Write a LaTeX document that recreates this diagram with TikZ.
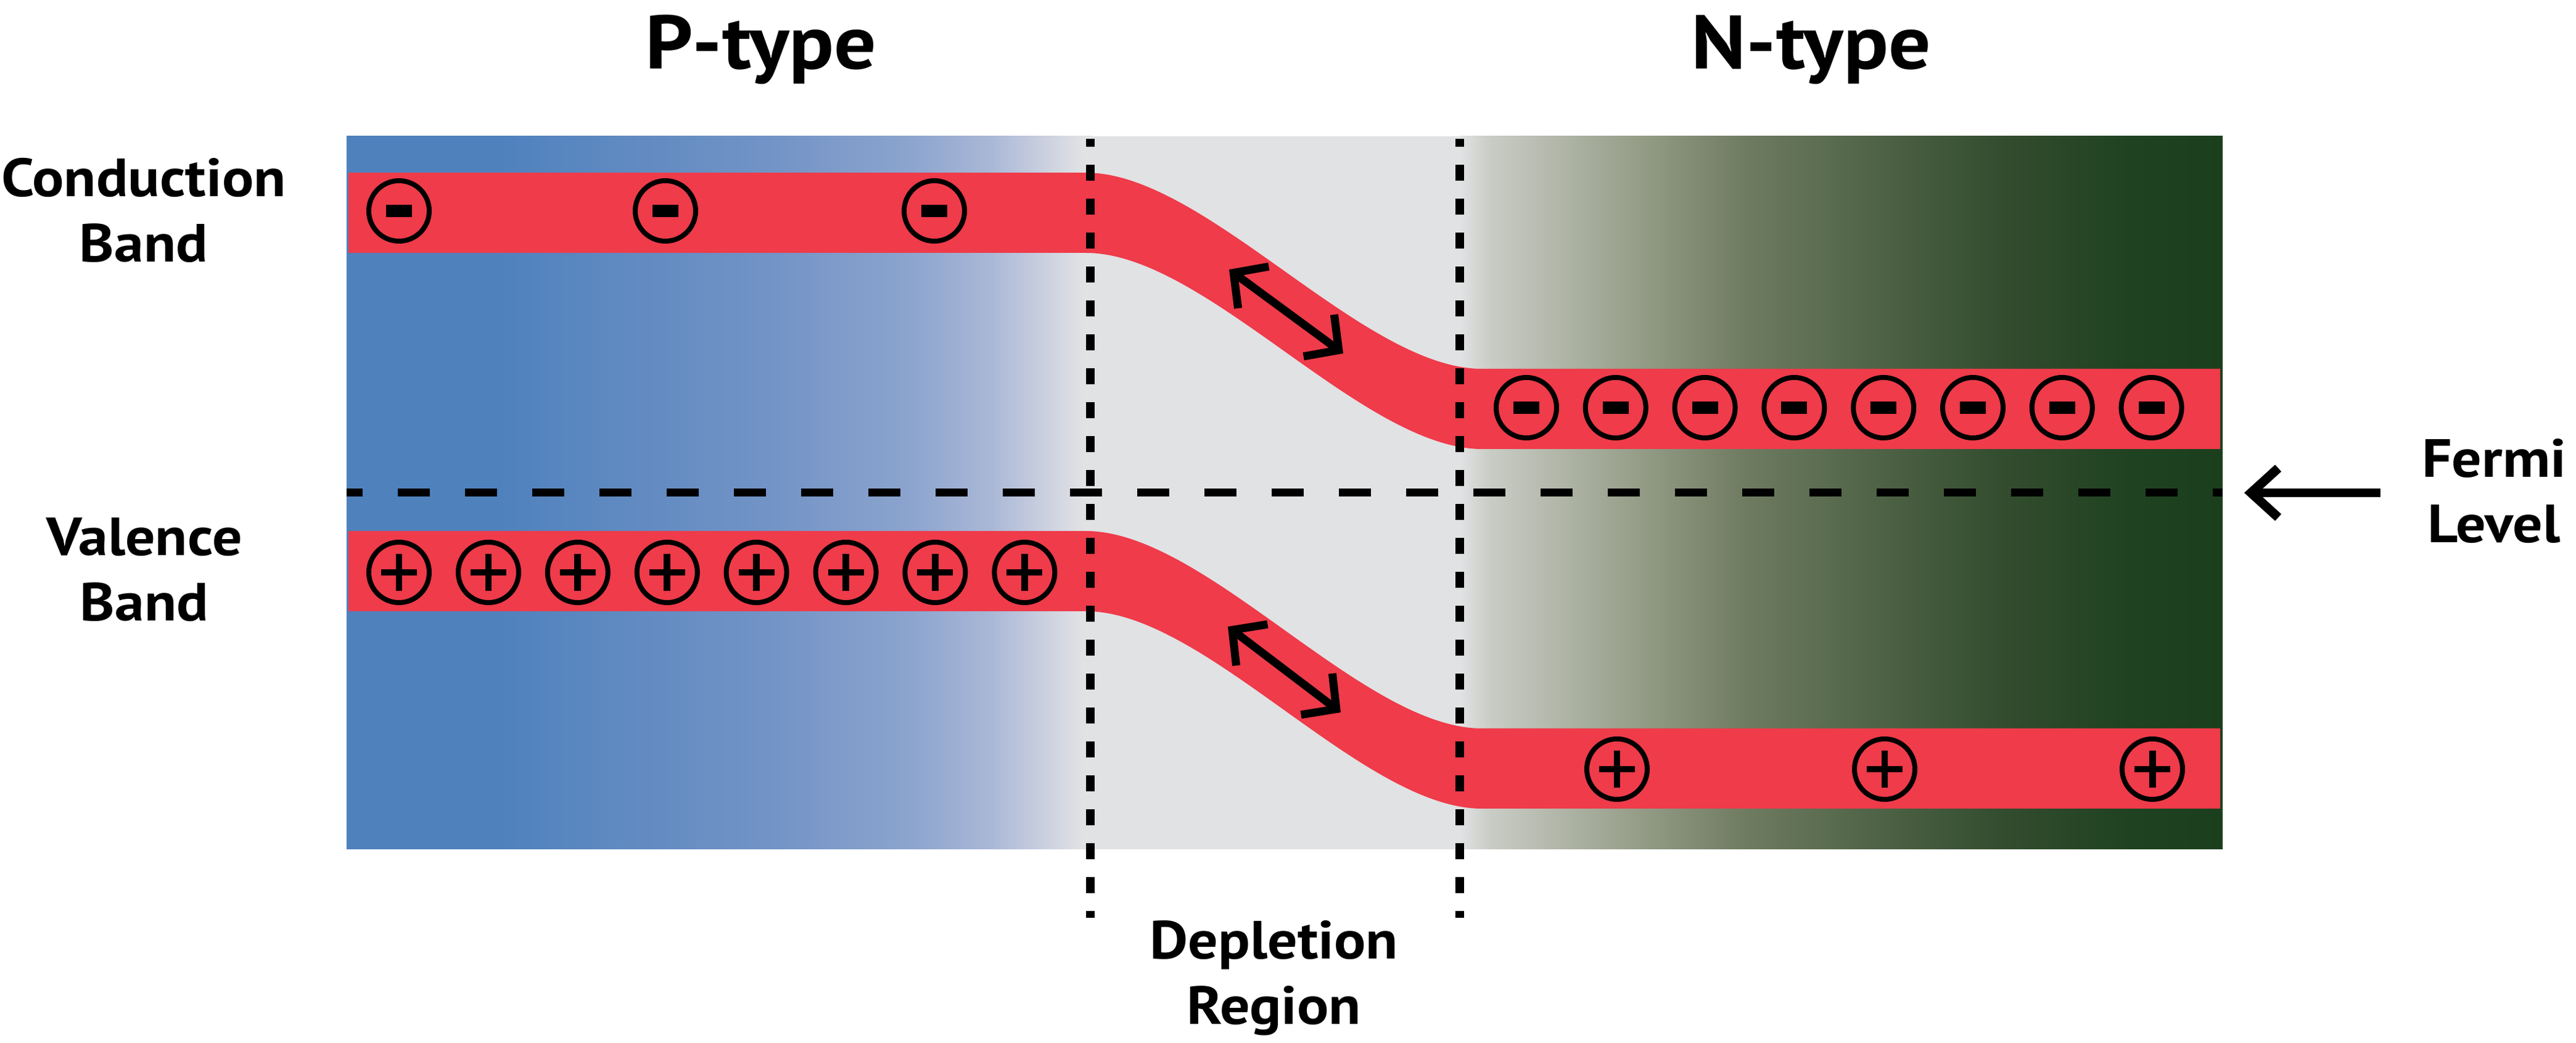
\documentclass[tikz,border=0pt]{standalone}
\usepackage{fontspec}
\setmainfont{PT Sans}[FakeStretch=1.1]
\usepackage{tikz}
\usetikzlibrary{arrows.meta}

\definecolor{bandred}{RGB}{239,59,74}
\definecolor{pblue}{RGB}{79,129,189}
\definecolor{pblueA}{RGB}{115,148,198}
\definecolor{pblueB}{RGB}{140,164,206}
\definecolor{pblueC}{RGB}{170,184,215}
\definecolor{pblueD}{RGB}{211,215,225}
\definecolor{dgrey}{RGB}{225,226,228}
\definecolor{ngreenA}{RGB}{201,204,197}
\definecolor{ngreenB}{RGB}{156,163,143}
\definecolor{ngreenC}{RGB}{110,123,96}
\definecolor{ngreenD}{RGB}{79,99,70}
\definecolor{ngreenE}{RGB}{51,76,46}
\definecolor{ngreenF}{RGB}{31,66,32}
\definecolor{ngreen}{RGB}{27,63,29}

\pgfdeclarehorizontalshading{pside}{100bp}{color(0bp)=(pblue); color(25bp)=(pblue); color(35bp)=(pblue); color(53.9bp)=(pblueA); color(62.8bp)=(pblueB); color(68.3bp)=(pblueC); color(72.8bp)=(pblueD); color(74.4bp)=(dgrey); color(100bp)=(dgrey)}
\pgfdeclarehorizontalshading{nside}{100bp}{color(0bp)=(dgrey); color(25bp)=(dgrey); color(27bp)=(ngreenA); color(35.4bp)=(ngreenB); color(43.8bp)=(ngreenC); color(52.3bp)=(ngreenD); color(60.7bp)=(ngreenE); color(69.1bp)=(ngreenF); color(75bp)=(ngreen); color(100bp)=(ngreen)}

\begin{document}
\begin{tikzpicture}[
	lbl/.style={align=center,anchor=base,font=\fontsize{12.4}{15.2}\selectfont\bfseries},
	ttl/.style={anchor=base,font=\fontsize{17.5}{21}\selectfont\bfseries},
	electron/.style={circle,draw,line width=1.14pt,minimum size=0.49cm,inner sep=0pt,
		path picture={\fill (path picture bounding box.center) ++(-0.105,-0.05) rectangle ++(0.21,0.1);}},
	hole/.style={circle,draw,line width=1.14pt,minimum size=0.49cm,inner sep=0pt,
		path picture={\draw[line width=1.56pt] (path picture bounding box.center) +(-0.145,0) -- +(0.145,0) +(0,-0.152) -- +(0,0.152);}},
	edge line/.style={line width=2pt,dash pattern=on 0.13cm off 0.145cm,dash phase=0.065cm},
	fermi line/.style={line width=1.85pt,dash pattern=on 0.26cm off 0.285cm,dash phase=0.13cm},
	biarrow/.style={line width=1.85pt,arrows={Straight Barb[length=0.2cm,width=0.42cm]-Straight Barb[length=0.2cm,width=0.42cm]}},
	fermiarrow/.style={line width=2.13pt,arrows={-Straight Barb[length=0.22cm,width=0.4cm]}}
	]
	\useasboundingbox (0,0) rectangle (20.885,8.455);
	
	\shade[shading=pside] (2.81,1.57) rectangle (8.85,7.35);	%P side
	\fill[dgrey] (8.84,1.57) rectangle (11.845,7.35);	%depletion
	\shade[shading=nside] (11.835,1.57) rectangle (18.02,7.35);	%N side
	
	\node[ttl] (ptype) at (6.17,7.895) {P-type};
	\node[ttl] (ntype) at (14.685,7.895) {N-type};
	\node[lbl] (cond) at (1.165,6.33) {Conduction\\Band};
	\node[lbl] (val) at (1.17,3.42) {Valence\\Band};
	\node[lbl] (depl) at (10.33,0.15) {Depletion\\Region};
	\node[lbl] (fermi) at (20.22,4.055) {Fermi\\Level};
	
	\fill[bandred] (2.825,7.055) -- (8.805,7.055) .. controls (9.775,7.055) and (11.045,5.465) .. (12.015,5.465) -- (18.0,5.465) -- (18.0,4.815) -- (12.015,4.815) .. controls (11.045,4.815) and (9.775,6.405) .. (8.805,6.405) -- (2.825,6.405) -- cycle;	%conduction
	\fill[bandred] (2.825,4.15) -- (8.805,4.15) .. controls (9.775,4.15) and (11.045,2.55) .. (12.015,2.55) -- (18.0,2.55) -- (18.0,1.9) -- (12.015,1.9) .. controls (11.045,1.9) and (9.775,3.5) .. (8.805,3.5) -- (2.825,3.5) -- cycle;	%valence
	
	\coordinate (dl1) at (8.84,7.33);	\coordinate (dl2) at (8.84,1.015);
	\coordinate (dr1) at (11.835,7.33);	\coordinate (dr2) at (11.835,1.015);
	\draw[edge line] (dl1) -- (dl2);
	\draw[edge line] (dr1) -- (dr2);
	
	\coordinate (fl1) at (2.81,4.46);	\coordinate (fl2) at (18.02,4.46);
	\draw[fermi line] (fl1) -- (fl2);
	\coordinate (ftail) at (19.3,4.46);	\coordinate (ftip) at (18.195,4.46);
	\draw[fermiarrow] (ftail) -- (ftip);
	
	\coordinate (ca) at (9.965,6.27);	\coordinate (cb) at (10.89,5.59);
	\coordinate (va) at (9.955,3.375);	\coordinate (vb) at (10.87,2.68);
	\draw[biarrow] (ca) -- (cb);
	\draw[biarrow] (va) -- (vb);
	
	\node[electron] (ep1) at (3.235,6.745) {};	\node[electron] (ep2) at (5.395,6.745) {};	\node[electron] (ep3) at (7.575,6.745) {};
	\node[electron] (en1) at (12.375,5.15) {};	\node[electron] (en2) at (13.099,5.15) {};
	\node[electron] (en3) at (13.823,5.15) {};	\node[electron] (en4) at (14.547,5.15) {};
	\node[electron] (en5) at (15.271,5.15) {};	\node[electron] (en6) at (15.995,5.15) {};
	\node[electron] (en7) at (16.719,5.15) {};	\node[electron] (en8) at (17.443,5.15) {};
	
	\node[hole] (hp1) at (3.235,3.815) {};	\node[hole] (hp2) at (3.96,3.815) {};
	\node[hole] (hp3) at (4.684,3.815) {};	\node[hole] (hp4) at (5.409,3.815) {};
	\node[hole] (hp5) at (6.133,3.815) {};	\node[hole] (hp6) at (6.858,3.815) {};
	\node[hole] (hp7) at (7.582,3.815) {};	\node[hole] (hp8) at (8.307,3.815) {};
	\node[hole] (hn1) at (13.11,2.22) {};	\node[hole] (hn2) at (15.28,2.22) {};	\node[hole] (hn3) at (17.45,2.22) {};
\end{tikzpicture}
\end{document}
